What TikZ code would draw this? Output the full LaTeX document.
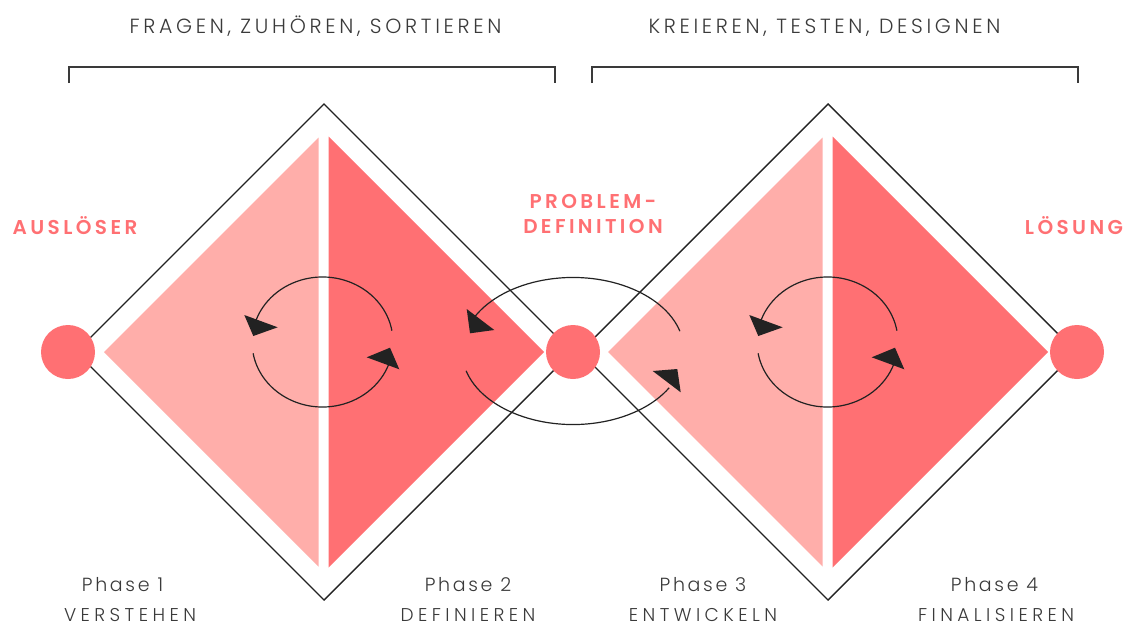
\documentclass[tikz,border=0pt]{standalone}
\usepackage{fontspec}
\newfontfamily\lightfont{Poppins Light}[LetterSpace=18]
\newfontfamily\phasefont{Poppins Light}[LetterSpace=14]
\newfontfamily\capfont{Poppins Light}[LetterSpace=24]
\newfontfamily\labfont{Poppins SemiBold}[LetterSpace=17]
\definecolor{dred}{HTML}{FF7073}
\definecolor{lpink}{HTML}{FFAEAA}
\definecolor{ink}{HTML}{222222}
\definecolor{txt}{HTML}{3A3A3A}
\begin{document}
\begin{tikzpicture}[x=1pt,y=-1pt,
  outline/.style={draw=ink, line width=1.4pt},
  bracket/.style={draw=txt, line width=1.2pt},
  dot/.style={circle, fill=dred, minimum size=54pt, inner sep=0pt},
  cyc/.style={draw=ink, line width=1.2pt},
  head/.style={fill=ink},
  toptext/.style={font=\lightfont\fontsize{20.5}{24}\selectfont, text=txt, anchor=base, inner sep=0pt, text depth=0pt},
  phasetext/.style={font=\phasefont\fontsize{19}{22}\selectfont, text=txt, anchor=base, inner sep=0pt, text depth=0pt},
  captext/.style={font=\capfont\fontsize{18.5}{22}\selectfont, text=txt, anchor=base, inner sep=0pt, text depth=0pt},
  labtext/.style={font=\labfont\fontsize{20}{24}\selectfont, text=dred, anchor=base, inner sep=0pt, text depth=0pt}]
\useasboundingbox (0,0) rectangle (1131,626);
% inner diamonds
\fill[lpink] (104,352) -- (318.5,137.5) -- (318.5,566.5) -- cycle;
\fill[dred] (328.5,136.5) -- (544,352) -- (328.5,567.5) -- cycle;
\fill[lpink] (608,352) -- (822.5,137.5) -- (822.5,566.5) -- cycle;
\fill[dred] (832.5,136.5) -- (1048,352) -- (832.5,567.5) -- cycle;
% outer diamonds
\draw[outline] (324,104) -- (572,352) -- (324,600) -- (76,352) -- cycle;
\draw[outline] (828,104) -- (1076,352) -- (828,600) -- (580,352) -- cycle;
% brackets
\draw[bracket] (69,83) -- (69,67) -- (555,67) -- (555,83);
\draw[bracket] (592,83) -- (592,67) -- (1078,67) -- (1078,83);
% circles
\node[dot] (trigger) at (68,352) {};
\node[dot] (problem) at (573,352) {};
\node[dot] (solution) at (1077,352) {};
% left cycle
\draw[cyc] (391.9,330.7) arc[start angle=-10, end angle=-160, x radius=70.5, y radius=65];
\fill[head] (244.3,315) -- (277.7,327.3) -- (253.3,336) -- cycle;
\draw[cyc] (253.1,353.3) arc[start angle=-190, end angle=-340, x radius=70.5, y radius=65];
\fill[head] (366.7,357.3) -- (390,347.7) -- (399.3,369.3) -- cycle;
% middle cycle
\draw[cyc] (679.9,331.2) arc[start angle=-15.6, end angle=-152, x radius=111, y radius=73.5];
\fill[head] (466.7,309) -- (494.3,330) -- (470,333.3) -- cycle;
\draw[cyc] (466.1,370.8) arc[start angle=-195.6, end angle=-330, x radius=111, y radius=73.5];
\fill[head] (652.7,371) -- (677.3,369) -- (680.7,392.3) -- cycle;
% right cycle
\draw[cyc] (896.9,330.7) arc[start angle=-10, end angle=-160, x radius=70.5, y radius=65];
\fill[head] (749.3,315) -- (782.7,327.3) -- (758.3,336) -- cycle;
\draw[cyc] (758.1,353.3) arc[start angle=-190, end angle=-340, x radius=70.5, y radius=65];
\fill[head] (871.7,357.3) -- (895,347.7) -- (904.3,369.3) -- cycle;
% top texts
\node[toptext] (t1) at (315.5,33.5) {FRAGEN, ZUHÖREN, SORTIEREN};
\node[toptext] (t2) at (824.5,33.5) {KREIEREN, TESTEN, DESIGNEN};
% labels
\node[labtext] (l1) at (75,234) {AUSLÖSER};
\node[labtext] (l2a) at (593,208.3) {PROBLEM-};
\node[labtext] (l2b) at (593,233.3) {DEFINITION};
\node[labtext] (l3) at (1074,234) {LÖSUNG};
% phases
\node[phasetext] (p1) at (122.5,591.5) {Phase 1};
\node[captext] (c1) at (130,621.5) {VERSTEHEN};
\node[phasetext] (p2) at (468,591.5) {Phase 2};
\node[captext] (c2) at (468,621.5) {DEFINIEREN};
\node[phasetext] (p3) at (703,591.5) {Phase 3};
\node[captext] (c3) at (703,621.5) {ENTWICKELN};
\node[phasetext] (p4) at (994.5,591.5) {Phase 4};
\node[captext] (c4) at (996,621.5) {FINALISIEREN};
\end{tikzpicture}
\end{document}
